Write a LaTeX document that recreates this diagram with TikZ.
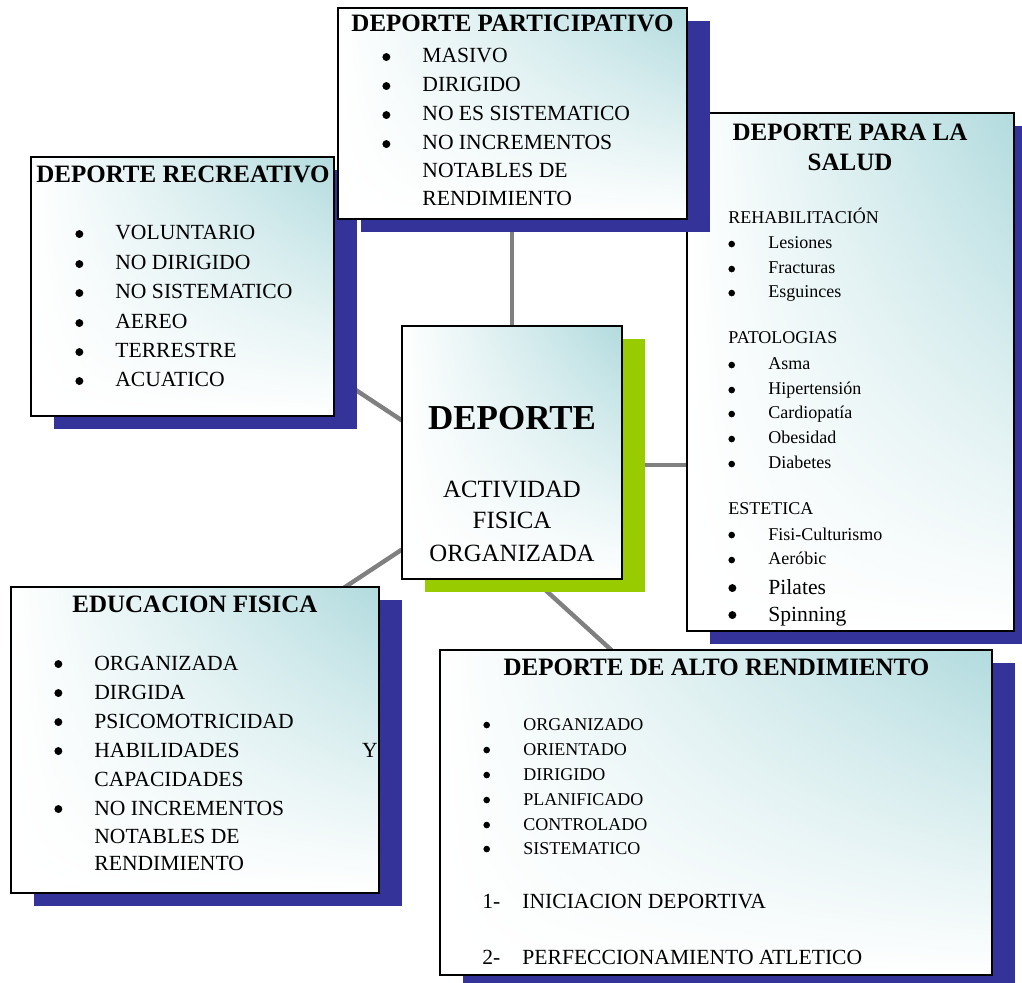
\documentclass[tikz,border=0pt]{standalone}
\usepackage{fontspec}
\setmainfont{Liberation Serif}
\usetikzlibrary{shadows,shadings}

\definecolor{cajaazul}{RGB}{51,51,153}
\definecolor{cajaverde}{RGB}{153,204,0}
\definecolor{cajateal}{RGB}{178,219,222}
\definecolor{gris}{RGB}{128,128,128}

\tikzset{
  caja/.style={draw=black, line width=0.7pt, inner sep=0pt,
    upper right=cajateal, upper left=white, lower left=white, lower right=white},
  sombra/.style={drop shadow={shadow xshift=11.5pt, shadow yshift=-6.5pt,
    fill=#1, opacity=1}},
  enlace/.style={draw=gris, line width=2.2pt},
  titulo/.style={anchor=base, inner sep=0pt, font=\bfseries\fontsize{12.5}{15}\selectfont},
  item/.style={anchor=base west, inner sep=0pt, font=\fontsize{10.8}{13}\selectfont},
  itemchico/.style={item, font=\fontsize{9}{11}\selectfont},
}
% punto de la lista, dibujado
\newcommand{\bala}{\makebox[20pt][l]{\tikz[baseline=0pt]\fill[black] (0.4ex,0.6ex) circle (0.4ex);}}

\begin{document}
\begin{tikzpicture}[x=0.5pt, y=-0.5pt]
\useasboundingbox (0,0) rectangle (1022,983);

% uniones con el centro (quedan debajo de las cajas)
\coordinate (uRecre) at (330,373);   \coordinate (cRecre) at (430,439);
\coordinate (uEduc)  at (330,597);   \coordinate (cEduc)  at (430,531);
\coordinate (uAlto)  at (630,667);   \coordinate (cAlto)  at (530,576);
\coordinate (uSalud) at (700,465);   \coordinate (cSalud) at (600,465);
\coordinate (uPart)  at (512,200);   \coordinate (cPart)  at (512,340);
\draw[enlace] (uRecre) -- (cRecre);
\draw[enlace] (uEduc) -- (cEduc);
\draw[enlace] (uAlto) -- (cAlto);
\draw[enlace] (uSalud) -- (cSalud);
\draw[enlace] (uPart) -- (cPart);

% deporte recreativo
\node[caja, sombra=cajaazul, minimum width=151.5pt, minimum height=129.5pt] (recre) at (182.5,286.5) {};
\node[titulo] (recreT) at (183,183) {DEPORTE RECREATIVO};
\node[item] (recre1) at (75,240) {\bala VOLUNTARIO};
\node[item] (recre2) at (75,270) {\bala NO DIRIGIDO};
\node[item] (recre3) at (75,299) {\bala NO SISTEMATICO};
\node[item] (recre4) at (75,329) {\bala AEREO};
\node[item] (recre5) at (75,358) {\bala TERRESTRE};
\node[item] (recre6) at (75,387) {\bala ACUATICO};

% deporte para la salud
\node[caja, sombra=cajaazul, minimum width=163.5pt, minimum height=259pt] (salud) at (850.5,372) {};
\node[titulo] (saludT1) at (850,141) {DEPORTE PARA LA};
\node[titulo] (saludT2) at (850,171) {SALUD};
\node[itemchico] (rehab) at (728,224) {REHABILITACIÓN};
\node[itemchico] (salud1) at (728,249) {\bala Lesiones};
\node[itemchico] (salud2) at (728,274) {\bala Fracturas};
\node[itemchico] (salud3) at (728,298) {\bala Esguinces};
\node[itemchico] (pato) at (728,344) {PATOLOGIAS};
\node[itemchico] (salud4) at (728,370) {\bala Asma};
\node[itemchico] (salud5) at (728,395) {\bala Hipertensión};
\node[itemchico] (salud6) at (728,419) {\bala Cardiopatía};
\node[itemchico] (salud7) at (728,444) {\bala Obesidad};
\node[itemchico] (salud8) at (728,469) {\bala Diabetes};
\node[itemchico] (estet) at (728,515) {ESTETICA};
\node[itemchico] (salud9) at (728,540) {\bala Fisi-Culturismo};
\node[itemchico] (salud10) at (728,565) {\bala Aeróbic};
\node[item] (salud11) at (728,594) {\bala Pilates};
\node[item] (salud12) at (728,621) {\bala Spinning};

% deporte participativo
\node[caja, sombra=cajaazul, minimum width=174.5pt, minimum height=105.5pt] (partic) at (512.5,113.5) {};
\node[titulo] (particT) at (512.5,32) {DEPORTE PARTICIPATIVO};
\node[item] (partic1) at (382,63) {\bala MASIVO};
\node[item] (partic2) at (382,92) {\bala DIRIGIDO};
\node[item] (partic3) at (382,121) {\bala NO ES SISTEMATICO};
\node[item] (partic4) at (382,150) {\bala NO INCREMENTOS};
\node[item] (partic5) at (422,178) {NOTABLES DE};
\node[item] (partic6) at (422,206) {RENDIMIENTO};

% educacion fisica
\node[caja, sombra=cajaazul, minimum width=184pt, minimum height=153pt] (educ) at (195,740) {};
\node[titulo] (educT) at (195,612) {EDUCACION FISICA};
\node[item] (educ1) at (54,670) {\bala ORGANIZADA};
\node[item] (educ2) at (54,699) {\bala DIRGIDA};
\node[item] (educ3) at (54,728) {\bala PSICOMOTRICIDAD};
\node[item] (educ4) at (54,757) {\bala HABILIDADES};
\node[item, anchor=base east] (educY) at (378,757) {Y};
\node[item] (educ5) at (94,786) {CAPACIDADES};
\node[item] (educ6) at (54,815) {\bala NO INCREMENTOS};
\node[item] (educ7) at (94,843) {NOTABLES DE};
\node[item] (educ8) at (94,870) {RENDIMIENTO};

% deporte de alto rendimiento
\node[caja, sombra=cajaazul, minimum width=276pt, minimum height=162.5pt] (alto) at (716,812.5) {};
\node[titulo] (altoT) at (716.5,675) {DEPORTE DE ALTO RENDIMIENTO};
\node[itemchico] (alto1) at (483,730) {\bala ORGANIZADO};
\node[itemchico] (alto2) at (483,755) {\bala ORIENTADO};
\node[itemchico] (alto3) at (483,780) {\bala DIRIGIDO};
\node[itemchico] (alto4) at (483,805) {\bala PLANIFICADO};
\node[itemchico] (alto5) at (483,830) {\bala CONTROLADO};
\node[itemchico] (alto6) at (483,854) {\bala SISTEMATICO};
\node[item] (etapa1) at (482,908) {\makebox[20pt][l]{1-}INICIACION DEPORTIVA};
\node[item] (etapa2) at (482,964) {\makebox[20pt][l]{2-}PERFECCIONAMIENTO ATLETICO};

% caja central
\node[caja, sombra=cajaverde, minimum width=110pt, minimum height=126.5pt] (centro) at (512,452.5) {};
\node[anchor=base, inner sep=0pt, font=\bfseries\fontsize{17.5}{20}\selectfont] (centroT) at (512,430) {DEPORTE};
\node[anchor=base, inner sep=0pt, font=\fontsize{12.4}{15}\selectfont] (centro1) at (512,498) {ACTIVIDAD};
\node[anchor=base, inner sep=0pt, font=\fontsize{12.4}{15}\selectfont] (centro2) at (512,529) {FISICA};
\node[anchor=base, inner sep=0pt, font=\fontsize{12.4}{15}\selectfont] (centro3) at (512,561) {ORGANIZADA};
\end{tikzpicture}
\end{document}
